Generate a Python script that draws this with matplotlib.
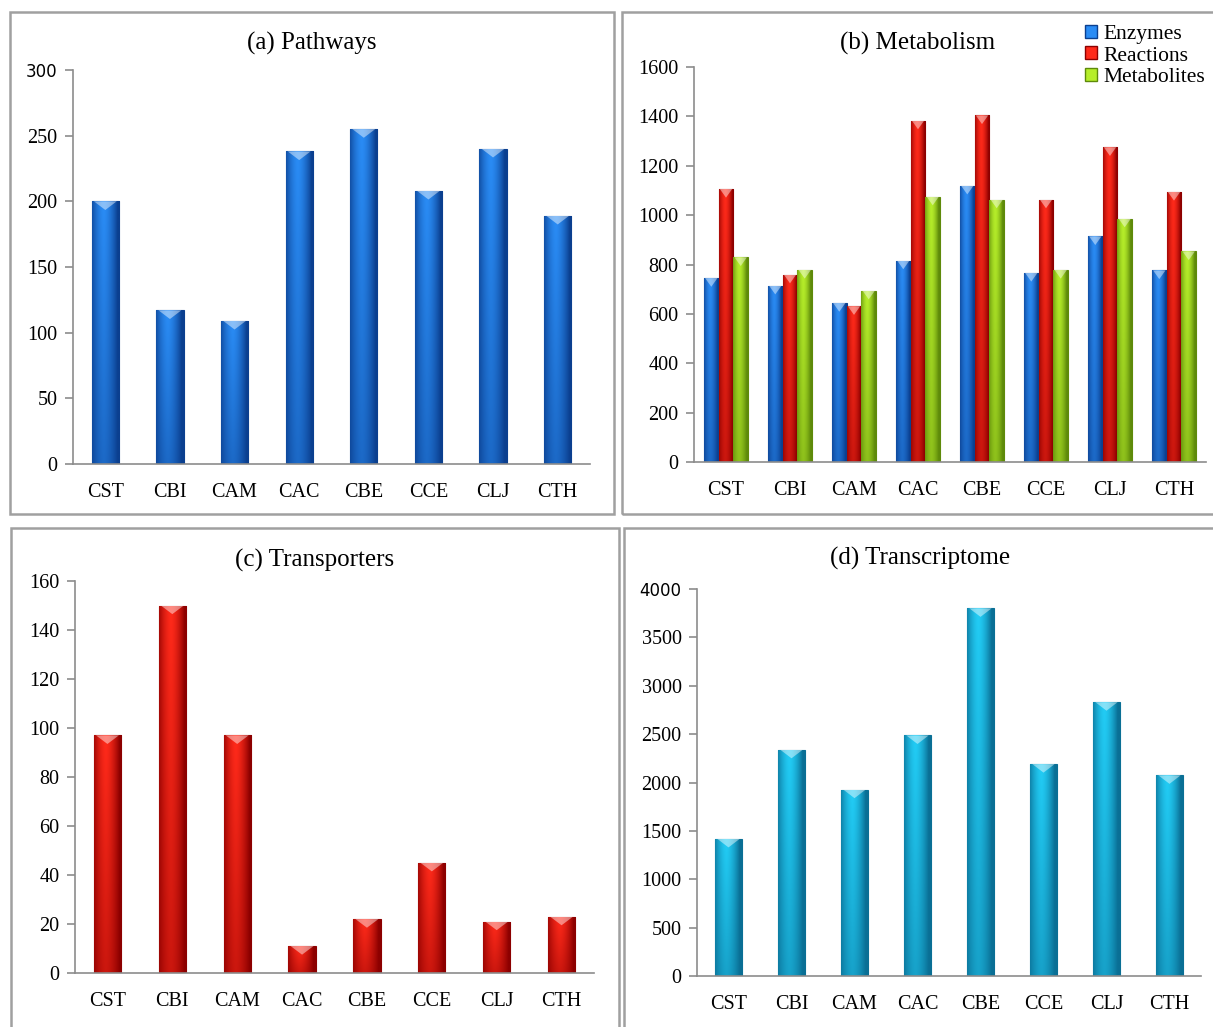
# Four-panel bar chart: pathways, metabolism, transporters and transcriptome
# counts for eight organisms, Excel-like cylinder shaded bars.

import numpy as np
import matplotlib
matplotlib.use('Agg')
import matplotlib.pyplot as plt
from matplotlib.colors import LinearSegmentedColormap
from matplotlib.patches import Rectangle, Polygon

# data
organisms     = ['CST', 'CBI', 'CAM', 'CAC', 'CBE', 'CCE', 'CLJ', 'CTH']
pathways      = [200, 117, 109, 238, 255, 208, 240, 189]
enzymes       = [745, 714, 644, 816, 1119, 766, 914, 776]
reactions     = [1106, 759, 631, 1383, 1404, 1063, 1275, 1094]
metabolites   = [829, 778, 694, 1075, 1063, 778, 986, 853]
transporters  = [97, 150, 97, 11, 22, 45, 21, 23]
transcriptome = [1417, 2338, 1926, 2486, 3800, 2190, 2830, 2074]

# colours (dark edge, light centre)
blue  = ('#0b3f8f', '#2a8cf5')
red   = ('#8c0000', '#ff2a1a')
green = ('#5e8a0a', '#b6ee2a')
cyan  = ('#0a6f95', '#22ccf5')

plt.rcParams['font.family'] = ['Liberation Serif', 'DejaVu Serif']
W, H = 1213, 1027
fig = plt.figure(figsize=(W/100, H/100), dpi=100)

def px_rect(x0, y0, x1, y1):
    """ pixel box (top-left origin) to figure fraction [l, b, w, h] """
    return [x0/W, 1 - y1/H, (x1 - x0)/W, (y1 - y0)/H]

def cyl_bars(ax, xs, hs, width, colors, ymax):
    """
    Draw bars with a horizontal cylinder shading and a light top notch.
    """
    dark, light = colors
    cmap = LinearSegmentedColormap.from_list('c', [dark, light])
    u = np.linspace(-1, 1, 60)
    prof = np.clip(1 - np.abs(u - (-0.15))**1.6, 0, 1)
    v = np.linspace(0.55, 1.0, 40)[:, None]
    img = prof[None, :] * v
    for x, h in zip(xs, hs):
        rect = ax.bar(x, h, width, color=light, edgecolor=dark,
                      linewidth=0.8, zorder=2)[0]
        im = ax.imshow(img, extent=[x - width/2, x + width/2, 0, h],
                       origin='lower', aspect='auto', cmap=cmap,
                       vmin=0, vmax=1, zorder=2.1, interpolation='bilinear')
        im.set_clip_path(rect)
        d = 0.022*ymax
        ax.add_patch(Polygon([(x - width*0.42, h), (x + width*0.42, h),
                              (x, h - d)], closed=True, facecolor='white',
                             alpha=0.45, edgecolor='none', zorder=2.2))

def style_axes(ax, ymax, step):
    ax.set_xlim(-0.5, len(organisms) - 0.5)
    ax.set_ylim(0, ymax)
    ax.set_yticks(np.arange(0, ymax + 1, step))
    ax.set_xticks(range(len(organisms)))
    ax.set_xticklabels(organisms)
    for s in ['top', 'right']:
        ax.spines[s].set_visible(False)
    for s in ['left', 'bottom']:
        ax.spines[s].set_color('#8c8c8c')
        ax.spines[s].set_linewidth(1.2)
    ax.tick_params(axis='y', colors='#8c8c8c', labelcolor='black',
                   labelsize=14.5, length=6, width=1.2, pad=5)
    ax.tick_params(axis='x', length=0, labelsize=14.5, pad=14)

def sans_top_label(ax):
    # the top tick label is drawn in a sans font in the original
    lab = ax.get_yticklabels()[-1]
    lab.set_fontfamily('DejaVu Sans')
    lab.set_fontsize(12)

xs = np.arange(len(organisms))

# (a) Pathways
ax0 = fig.add_axes(px_rect(73, 70, 590, 464))
cyl_bars(ax0, xs, pathways, 0.42, blue, 300)
style_axes(ax0, 300, 50)
sans_top_label(ax0)

# (b) Metabolism
ax1 = fig.add_axes(px_rect(694, 67, 1206, 462))
bw = 0.23
series = [(enzymes, blue, 'Enzymes'), (reactions, red, 'Reactions'),
          (metabolites, green, 'Metabolites')]
for k, (vals, col, name) in enumerate(series):
    cyl_bars(ax1, xs + (k - 1)*bw, vals, bw, col, 1600)
style_axes(ax1, 1600, 200)
handles = [Rectangle((0, 0), 1, 1, facecolor=c[1], edgecolor=c[0])
           for _, c, _ in series]
fig.legend(handles, [n for _, _, n in series], loc='upper right',
           bbox_to_anchor=(1216/W, 1 - 14/H), frameon=False, fontsize=15.5,
           handlelength=0.55, handleheight=0.55, handletextpad=0.3,
           labelspacing=0.12, borderaxespad=0.1)

# (c) Transporters
ax2 = fig.add_axes(px_rect(75, 581, 594, 973))
cyl_bars(ax2, xs, transporters, 0.42, red, 160)
style_axes(ax2, 160, 20)

# (d) Transcriptome
ax3 = fig.add_axes(px_rect(697, 589, 1201, 976))
cyl_bars(ax3, xs, transcriptome, 0.42, cyan, 4000)
style_axes(ax3, 4000, 500)
sans_top_label(ax3)

# panel titles, centred on each frame
titles = ['(a) Pathways', '(b) Metabolism', '(c) Transporters',
          '(d) Transcriptome']
title_pos = [(312, 43), (918, 43), (315, 560), (920, 558)]
for t, (tx, ty) in zip(titles, title_pos):
    fig.text(tx/W, 1 - ty/H, t, fontsize=18, ha='center', va='center')

# panel frames
for box in [(10, 12, 614, 514), (622, 12, 1215, 514),
            (11, 528, 619, 1029), (624, 528, 1215, 1029)]:
    l, b, w, h = px_rect(*box)
    fig.add_artist(Rectangle((l, b), w, h, transform=fig.transFigure,
                             fill=False, edgecolor='#a0a0a0', linewidth=1.8))

fig.savefig('out.png', dpi=100)
